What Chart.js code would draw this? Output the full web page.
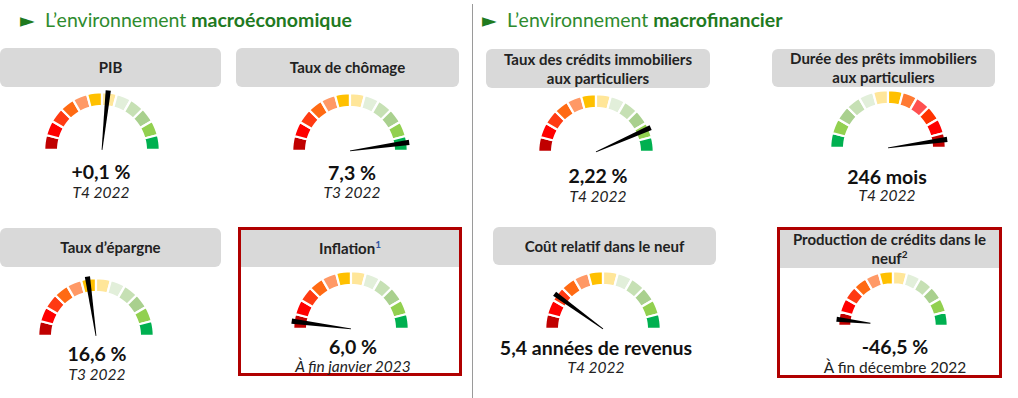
<!DOCTYPE html>
<html lang="fr">
<head>
<meta charset="utf-8">
<script src="https://cdn.jsdelivr.net/npm/chart.js@4.4.0/dist/chart.umd.min.js"></script>
<style>
body{margin:0;width:1018px;height:398px;background:#fff;font-family:Lato,"Open Sans",sans-serif;position:relative;overflow:hidden}
.title{position:absolute;top:8px;font-size:19.5px;color:#2e8b2e;white-space:nowrap}
.title b{color:#1f7a1f;font-weight:700}
.title span{display:inline-block;width:25px;font-size:19px;color:#1f7a1f;font-family:"DejaVu Sans",sans-serif}
.sep{position:absolute;left:472px;top:4px;width:1px;height:394px;background:#9a9a9a}
.head{position:absolute;background:#d9d9d9;border-radius:6px;display:flex;align-items:center;justify-content:center;text-align:center;font-size:15px;font-weight:700;color:#222;line-height:19px}
.head.sq{border-radius:0}
.head sup{font-size:10px;line-height:0;vertical-align:6px}
.frame{position:absolute;border:3px solid #b00000;box-sizing:border-box}
.val{position:absolute;width:260px;margin-left:-130px;text-align:center;font-size:19.5px;font-weight:700;color:#111;line-height:22px;white-space:nowrap}
.date{position:absolute;width:260px;margin-left:-130px;text-align:center;font-size:15.5px;font-style:italic;color:#222;line-height:18px;white-space:nowrap}
.date.up{font-style:normal}
canvas{position:absolute}
</style>
</head>
<body>
<div class="title" style="left:20px"><span>&#9658;</span>L’environnement <b>macroéconomique</b></div>
<div class="title" style="left:482px"><span>&#9658;</span>L’environnement <b>macrofinancier</b></div>
<div class="sep"></div>
<script>
// gauge data
const titles = ['PIB', 'Taux de chômage', 'Taux d’épargne', 'Inflation<sup style="color:#2f55a4">1</sup>',
  'Taux des crédits immobiliers<br>aux particuliers', 'Durée des prêts immobiliers<br>aux particuliers',
  'Coût relatif dans le neuf', 'Production de crédits dans le<br>neuf<sup>2</sup>'];
const values = ['+0,1 %', '7,3 %', '16,6 %', '6,0 %', '2,22 %', '246 mois', '5,4 années de revenus', '-46,5 %'];
const periods = ['T4 2022', 'T3 2022', 'T3 2022', 'À fin janvier 2023', 'T4 2022', 'T4 2022', 'T4 2022', 'À fin décembre 2022'];
// needle position on the 12-segment scale (0 = left end, 12 = right end)
const needlePos = [6.4, 11.45, 5.45, 0.5, 10.4, 11.45, 2.4, 0.45];
const segments = [1, 1, 1, 1, 1, 1, 1, 1, 1, 1, 1, 1];
const colorsRedToGreen = ['#C00000', '#FF0000', '#FF3A12', '#FF6A13', '#FF9966', '#FFC000', '#FFE699', '#E2EFDA', '#C6E0B4', '#A9D08E', '#92D050', '#00B050'];
const colorsGreenToRed = ['#00B050', '#92D050', '#A9D08E', '#C6E0B4', '#E2EFDA', '#FFE699', '#FFC000', '#FF7A33', '#FF5050', '#FF3300', '#FF0000', '#C00000'];

// layout of each card
const cards = [
  {head: [0, 48, 221, 39], cx: 102, cy: 151, r: 60, tx: 101, vy: 172, dy: 192},
  {head: [236, 48, 223, 39], cx: 350, cy: 152, r: 60, tx: 352, vy: 173, dy: 192},
  {head: [0, 228, 221, 39], cx: 96, cy: 337, r: 60, tx: 97, vy: 354, dy: 374},
  {frame: [238, 227, 224, 149], head: [241, 230, 218, 37], cx: 351, cy: 330, r: 60, tx: 353, vy: 347, dy: 366},
  {head: [486, 49, 224, 39], cx: 596, cy: 153, r: 60, tx: 598, vy: 176, dy: 196},
  {head: [772, 49, 223, 38], cx: 888, cy: 149, r: 60, tx: 887, vy: 177, dy: 195, reverse: true},
  {head: [493, 227, 223, 38], cx: 603, cy: 330, r: 60, tx: 596, vy: 348, dy: 367},
  {frame: [777, 227, 225, 151], head: [780, 230, 219, 38], cx: 893, cy: 327, r: 57, tx: 895, vy: 347, dy: 367, upright: true, from: 0.4}
];

const needlePlugin = {
  id: 'needle',
  afterDatasetsDraw(chart, args, opts) {
    const arcs = chart.getDatasetMeta(0).data;
    const first = arcs[0], last = arcs[arcs.length - 1];
    const total = chart.data.datasets[0].data.reduce((a, b) => a + b, 0);
    const a = first.startAngle + (last.endAngle - first.startAngle) * opts.value / total;
    const cx = first.x, cy = first.y;
    const r = first.outerRadius + 2;
    const r0 = r * (opts.from || 0);
    const c = Math.cos(a), s = Math.sin(a);
    const ctx = chart.ctx;
    ctx.save();
    ctx.fillStyle = '#000';
    ctx.beginPath();
    ctx.moveTo(cx + r0 * c + 0.4 * s, cy + r0 * s - 0.4 * c);
    ctx.lineTo(cx + r * c + 2.6 * s, cy + r * s - 2.6 * c);
    ctx.lineTo(cx + r * c - 2.6 * s, cy + r * s + 2.6 * c);
    ctx.lineTo(cx + r0 * c - 0.4 * s, cy + r0 * s + 0.4 * c);
    ctx.closePath();
    ctx.fill();
    ctx.restore();
  }
};

function el(cls, style, html) {
  const d = document.createElement('div');
  d.className = cls;
  Object.assign(d.style, style);
  d.innerHTML = html || '';
  document.body.appendChild(d);
  return d;
}

cards.forEach((card, i) => {
  if (card.frame) {
    const f = card.frame;
    el('frame', {left: f[0] + 'px', top: f[1] + 'px', width: f[2] + 'px', height: f[3] + 'px'});
  }
  const h = card.head;
  el('head' + (card.frame ? ' sq' : ''), {left: h[0] + 'px', top: h[1] + 'px', width: h[2] + 'px', height: h[3] + 'px'}, '<span>' + titles[i] + '</span>');
  el('val', {left: card.tx + 'px', top: (card.vy - 11) + 'px'}, values[i]);
  el('date' + (card.upright ? ' up' : ''), {left: card.tx + 'px', top: (card.dy - 9) + 'px'}, periods[i]);

  const cv = document.createElement('canvas');
  cv.width = 2 * card.r + 8;
  cv.height = card.r + 6;
  cv.style.left = (card.cx - 4 - card.r) + 'px';
  cv.style.top = (card.cy - 4 - card.r) + 'px';
  document.body.appendChild(cv);

  new Chart(cv, {
    type: 'doughnut',
    data: {
      labels: segments.map((v, k) => 'S' + (k + 1)),
      datasets: [{
        data: segments,
        backgroundColor: card.reverse ? colorsGreenToRed : colorsRedToGreen,
        borderColor: '#fff',
        borderWidth: 2.2
      }]
    },
    options: {
      responsive: false,
      animation: false,
      events: [],
      rotation: -90,
      circumference: 180,
      cutout: '76%',
      layout: {padding: {left: 4, right: 4, top: 4, bottom: 2}},
      plugins: {
        legend: {display: false},
        tooltip: {enabled: false},
        needle: {value: needlePos[i], from: card.from || 0}
      }
    },
    plugins: [needlePlugin]
  });
});
</script>
</body>
</html>
